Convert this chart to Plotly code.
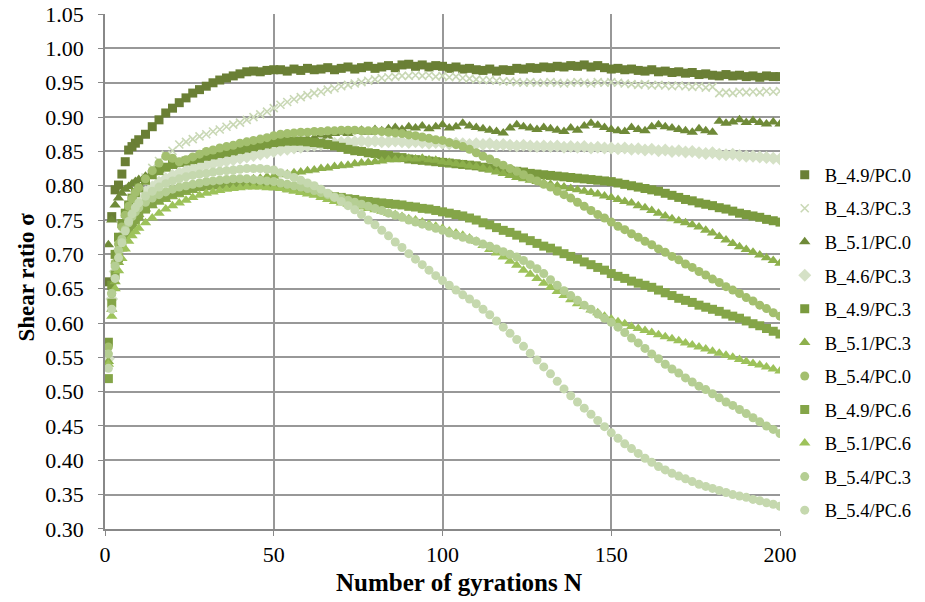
import plotly.graph_objects as go

# Number of gyrations at which values were read
N = list(range(1, 11)) + list(range(12, 201, 2))

# Axis ticks
x_ticks = [0, 50, 100, 150, 200]
y_ticks = [0.30, 0.35, 0.40, 0.45, 0.50, 0.55, 0.60, 0.65, 0.70, 0.75,
           0.80, 0.85, 0.90, 0.95, 1.00, 1.05]

# Shear ratio values (in thousandths)
s_49_pc0 = [660,755,794,801,817,835,852,857,862,867,
            875,886,896,906,913,921,928,935,940,945,
            950,954,957,960,963,966,967,966,968,969,
            969,967,970,968,971,969,970,972,969,971,
            973,970,972,974,971,973,975,972,976,977,
            974,976,973,975,974,971,973,970,971,969,
            968,970,967,969,968,971,970,972,971,973,
            972,974,973,975,974,976,973,975,972,970,
            971,969,970,968,967,969,966,967,965,966,
            964,965,962,963,961,960,962,960,961,959,
            960,958,960,959,959]
s_43_pc3 = [551,640,686,714,735,752,766,778,788,797,
            812,826,836,845,851,860,864,868,872,875,
            879,882,886,889,892,896,900,904,908,913,
            918,922,926,929,932,935,937,940,942,945,
            947,949,951,953,955,957,958,959,960,960,
            961,960,961,959,960,958,959,957,956,955,
            954,954,953,952,952,951,950,951,950,950,
            951,950,949,950,951,950,949,951,950,951,
            950,949,948,947,948,946,947,946,945,946,
            945,944,945,943,944,935,936,935,937,936,
            937,936,938,937,938]
s_51_pc0 = [714,750,772,782,789,795,799,803,806,809,
            814,819,823,826,830,833,835,837,838,840,
            842,843,845,846,848,850,852,854,856,858,
            860,862,864,866,868,870,874,872,876,878,
            876,879,881,878,882,880,883,885,882,886,
            884,887,883,886,889,884,886,891,887,885,
            883,881,879,877,884,889,886,884,882,885,
            883,881,879,884,881,887,891,888,885,882,
            880,879,885,882,880,886,889,886,884,882,
            880,878,883,880,878,894,891,893,896,892,
            895,892,890,893,890]
s_46_pc3 = [548,635,675,705,726,742,755,765,774,781,
            791,798,805,810,815,819,822,825,827,830,
            832,834,836,838,840,842,844,846,848,850,
            852,853,855,856,858,859,860,861,862,863,
            864,864,865,864,865,864,864,865,864,863,
            864,863,862,863,862,861,862,861,860,861,
            860,861,859,860,859,858,859,858,857,858,
            857,858,856,857,856,857,855,856,855,855,
            854,855,853,854,852,853,851,852,850,851,
            849,850,848,847,848,846,845,846,844,843,
            843,842,841,840,839]
s_49_pc3 = [572,655,700,725,745,760,772,782,790,797,
            808,816,822,827,831,834,836,838,840,843,
            845,847,849,851,853,855,857,859,861,863,
            864,865,865,865,864,863,862,860,858,856,
            853,851,850,848,847,845,844,842,841,839,
            838,837,836,835,834,833,832,831,830,829,
            827,826,824,823,822,821,820,818,817,816,
            815,814,813,812,811,810,809,808,807,806,
            804,802,800,798,796,794,792,789,786,783,
            780,778,775,773,771,768,766,763,760,758,
            756,754,751,749,747]
s_51_pc3 = [544,620,660,688,708,723,735,745,752,758,
            766,771,776,780,784,787,790,793,796,799,
            801,802,804,805,807,808,810,811,813,814,
            816,817,819,820,822,823,825,826,828,829,
            830,832,833,834,835,836,838,838,839,840,
            839,840,838,837,835,834,832,831,829,828,
            826,823,820,818,815,812,810,808,806,804,
            802,800,798,796,794,792,790,788,785,783,
            780,777,775,771,768,764,760,756,752,749,
            746,743,740,735,731,726,721,716,711,707,
            703,699,695,691,687]
s_54_pc0 = [565,643,687,715,740,757,770,781,790,797,
            810,822,833,843,840,835,838,842,846,850,
            852,855,857,859,862,864,866,868,870,873,
            875,876,877,878,878,879,879,880,880,881,
            881,881,880,880,880,879,878,877,876,874,
            873,871,869,867,866,863,860,857,853,848,
            843,839,834,830,825,821,816,811,807,802,
            798,792,787,782,776,770,764,758,753,747,
            741,736,730,725,719,714,708,703,697,692,
            686,681,675,670,664,659,653,648,643,637,
            632,626,621,615,610]
s_49_pc6 = [519,629,670,695,712,725,735,743,750,756,
            766,774,780,785,789,792,795,797,799,800,
            801,802,803,804,804,804,804,803,802,800,
            799,797,796,794,792,790,788,786,784,783,
            781,780,778,777,776,775,774,773,772,770,
            769,767,766,764,762,760,758,756,753,750,
            746,743,739,735,732,728,724,720,716,712,
            709,705,701,697,693,689,685,681,677,672,
            668,665,661,658,655,652,648,644,640,636,
            633,630,626,623,620,617,613,610,607,603,
            599,596,592,588,584]
s_51_pc6 = [540,610,650,676,694,708,719,727,733,738,
            746,753,760,766,771,775,779,783,786,789,
            791,793,795,796,797,798,798,798,797,797,
            796,794,792,790,788,786,783,780,777,775,
            773,771,769,767,765,763,760,758,755,752,
            750,747,744,741,738,734,731,728,724,719,
            713,707,702,696,690,684,677,671,665,658,
            652,646,640,634,628,624,619,615,610,606,
            602,599,595,592,589,586,583,580,577,574,
            571,568,565,562,559,556,553,550,547,544,
            541,539,536,533,530]
s_54_pc3 = [555,643,683,706,722,736,746,755,762,768,
            776,782,787,791,795,798,800,802,804,806,
            807,808,809,810,810,810,809,808,807,806,
            804,802,800,798,796,793,790,787,784,782,
            779,776,773,770,767,764,760,757,754,750,
            747,744,741,738,735,731,728,725,722,719,
            715,712,708,704,700,696,691,685,679,672,
            663,655,647,640,633,626,620,613,607,601,
            594,586,578,571,563,555,548,540,533,527,
            520,514,508,503,497,491,485,480,474,468,
            462,456,450,445,439]
s_54_pc6 = [534,620,665,695,717,734,748,759,768,775,
            785,792,798,803,807,810,813,815,817,818,
            820,821,822,823,824,825,825,825,824,823,
            819,816,812,808,804,800,795,789,783,777,
            771,765,758,750,743,735,727,718,710,701,
            693,685,677,669,662,655,648,641,635,628,
            620,612,603,594,585,576,566,556,546,536,
            526,515,504,494,485,476,467,458,449,440,
            432,424,417,410,403,397,391,386,381,377,
            373,369,365,362,359,356,353,350,348,346,
            343,341,338,336,333]

names = ["B_4.9/PC.0", "B_4.3/PC.3", "B_5.1/PC.0", "B_4.6/PC.3", "B_4.9/PC.3",
         "B_5.1/PC.3", "B_5.4/PC.0", "B_4.9/PC.6", "B_5.1/PC.6", "B_5.4/PC.3",
         "B_5.4/PC.6"]
series = [s_49_pc0, s_43_pc3, s_51_pc0, s_46_pc3, s_49_pc3, s_51_pc3,
          s_54_pc0, s_49_pc6, s_51_pc6, s_54_pc3, s_54_pc6]
colors = ["#6A7F35", "#C9D8B5", "#6F8A38", "#D5E1C6", "#7A9A3E", "#8DB04C",
          "#A3BF6E", "#84A548", "#9DC25A", "#B5CE93", "#C5D8AE"]
symbols = ["square", "x-thin", "triangle-up", "diamond", "square", "triangle-up",
           "circle", "square", "triangle-up", "circle", "circle"]
sizes = [9, 8, 10, 10, 9, 10, 9, 9, 10, 9, 9]

FONT = "Liberation Serif"

fig = go.Figure()
for i, (nm, s) in enumerate(zip(names, series)):
    marker = dict(symbol=symbols[i], size=sizes[i], color=colors[i])
    if symbols[i] == "x-thin":
        marker["line"] = dict(color=colors[i], width=1.6)
    else:
        marker["line"] = dict(width=0)
    fig.add_trace(go.Scatter(
        x=N, y=[v / 1000 for v in s], mode="markers", name=nm,
        marker=marker, legendgroup=nm,
    ))

axis_common = dict(showgrid=True, gridcolor="#989898", gridwidth=1.5,
                   showline=True, linecolor="#888888", linewidth=1.5,
                   ticks="outside", ticklen=5, tickcolor="#888888",
                   zeroline=False, ticklabeloverflow="allow",
                   tickfont=dict(family=FONT, size=22))

fig.update_layout(
    width=925, height=602,
    margin=dict(l=105, r=145, t=14, b=73, autoexpand=False),
    paper_bgcolor="white", plot_bgcolor="white",
    font=dict(family=FONT, size=19, color="black"),
    showlegend=True,
    legend=dict(x=1.007, xanchor="left", y=0.724, yanchor="top",
                font=dict(family=FONT, size=18.5, color="black"),
                tracegroupgap=6.5, itemwidth=30, bgcolor="rgba(0,0,0,0)"),
    xaxis=dict(range=[0, 200], tickvals=x_ticks, **axis_common),
    yaxis=dict(range=[0.2999, 1.0502], tickvals=y_ticks, tickformat=".2f",
               ticklabelstandoff=10, **axis_common),
    annotations=[
        dict(text="<b>Number of gyrations N</b>", xref="paper", yref="paper",
             x=0.525, y=-0.103, xanchor="center", yanchor="middle",
             showarrow=False, font=dict(family=FONT, size=25)),
        dict(text="<b>Shear ratio σ</b>", xref="paper", yref="paper",
             x=-0.1156, y=0.49, xanchor="center", yanchor="middle",
             textangle=-90, showarrow=False, font=dict(family=FONT, size=23)),
    ],
)

# remove the default 8px page margin so the figure sits at the window origin
fig.write_html("out.html",
               config={"displayModeBar": False},
               post_script="document.body.style.margin='0';"
                           "document.body.style.overflow='hidden';")
